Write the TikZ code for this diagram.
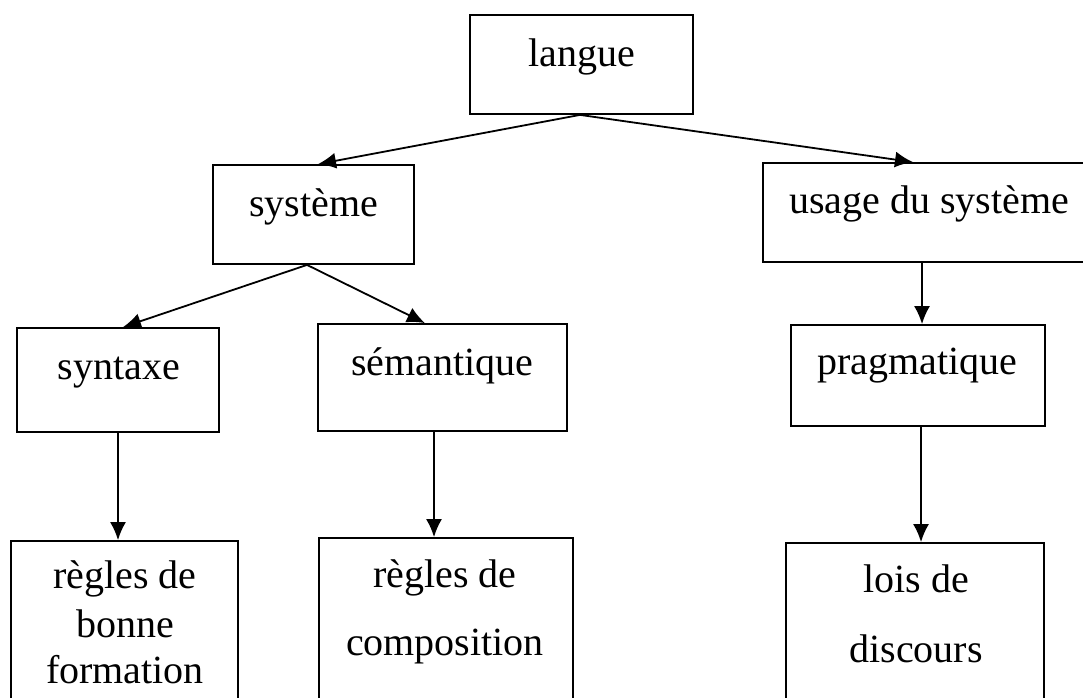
\documentclass[tikz,border=0pt]{standalone}
\usepackage{fontspec}
\setmainfont{Liberation Serif}
\usetikzlibrary{arrows.meta}
\begin{document}
\begin{tikzpicture}[x=1pt,y=-1pt,
  box/.style={draw=black,line width=1.8pt,rectangle,inner sep=0pt},
  lbl/.style={anchor=base,inner sep=0pt,font=\fontsize{40}{48}\selectfont},
  conn/.style={line width=1.8pt,-{Latex[length=18pt,width=16pt]}}]
\useasboundingbox (0,0) rectangle (1083,697);
\clip (0,0) rectangle (1083,697);
\fill[white] (0,0) rectangle (1083,697);
% boxes
\node[box,minimum width=223pt,minimum height=99pt] (langue) at (581.5,64.5) {};
\node[box,minimum width=201pt,minimum height=99pt] (systeme) at (313.5,214.5) {};
\node[box,minimum width=327pt,minimum height=99pt] (usage) at (926.5,212.5) {};
\node[box,minimum width=202pt,minimum height=104pt] (syntaxe) at (118,380) {};
\node[box,minimum width=249pt,minimum height=107pt] (semantique) at (442.5,377.5) {};
\node[box,minimum width=254pt,minimum height=101pt] (pragmatique) at (918,375.5) {};
\node[box,minimum width=227pt,minimum height=199pt] (bonne) at (124.5,640.5) {};
\node[box,minimum width=254pt,minimum height=202pt] (composition) at (446,639) {};
\node[box,minimum width=258pt,minimum height=197pt] (lois) at (915,641.5) {};
% texts
\node[lbl] (tlangue) at (581.5,66) {langue};
\node[lbl] (tsysteme) at (313.5,216) {système};
\node[lbl] (tusage) at (929,213) {usage du système};
\node[lbl] (tsyntaxe) at (119,379) {syntaxe};
\node[lbl] (tsemantique) at (442.5,375) {sémantique};
\node[lbl] (tpragmatique) at (917,374) {pragmatique};
\node[lbl] (tbonneA) at (125,588) {règles de};
\node[lbl] (tbonneB) at (125,637) {bonne};
\node[lbl] (tbonneC) at (125,683) {formation};
\node[lbl] (tcompA) at (445,587) {règles de};
\node[lbl] (tcompB) at (445,655) {composition};
\node[lbl] (tloisA) at (916,592) {lois de};
\node[lbl] (tloisB) at (916,662) {discours};
% connectors
\draw[conn] ([xshift=-1.5pt]langue.south) -- ([xshift=4.5pt]systeme.north);
\draw[conn] ([xshift=-1.5pt]langue.south) -- ([xshift=-13.5pt]usage.north);
\draw[conn] ([xshift=-6.5pt]systeme.south) -- ([xshift=5pt]syntaxe.north);
\draw[conn] ([xshift=-6.5pt]systeme.south) -- ([xshift=-17.5pt]semantique.north);
\draw[conn] (syntaxe.south) -- (syntaxe.south |- bonne.north);
\draw[conn] ([xshift=-8.5pt]semantique.south) -- ([xshift=-8.5pt]semantique.south |- composition.north);
\draw[conn] ([xshift=-4.5pt]usage.south) -- ([xshift=-4.5pt]usage.south |- pragmatique.north);
\draw[conn] ([xshift=3pt]pragmatique.south) -- ([xshift=3pt]pragmatique.south |- lois.north);
\end{tikzpicture}
\end{document}
